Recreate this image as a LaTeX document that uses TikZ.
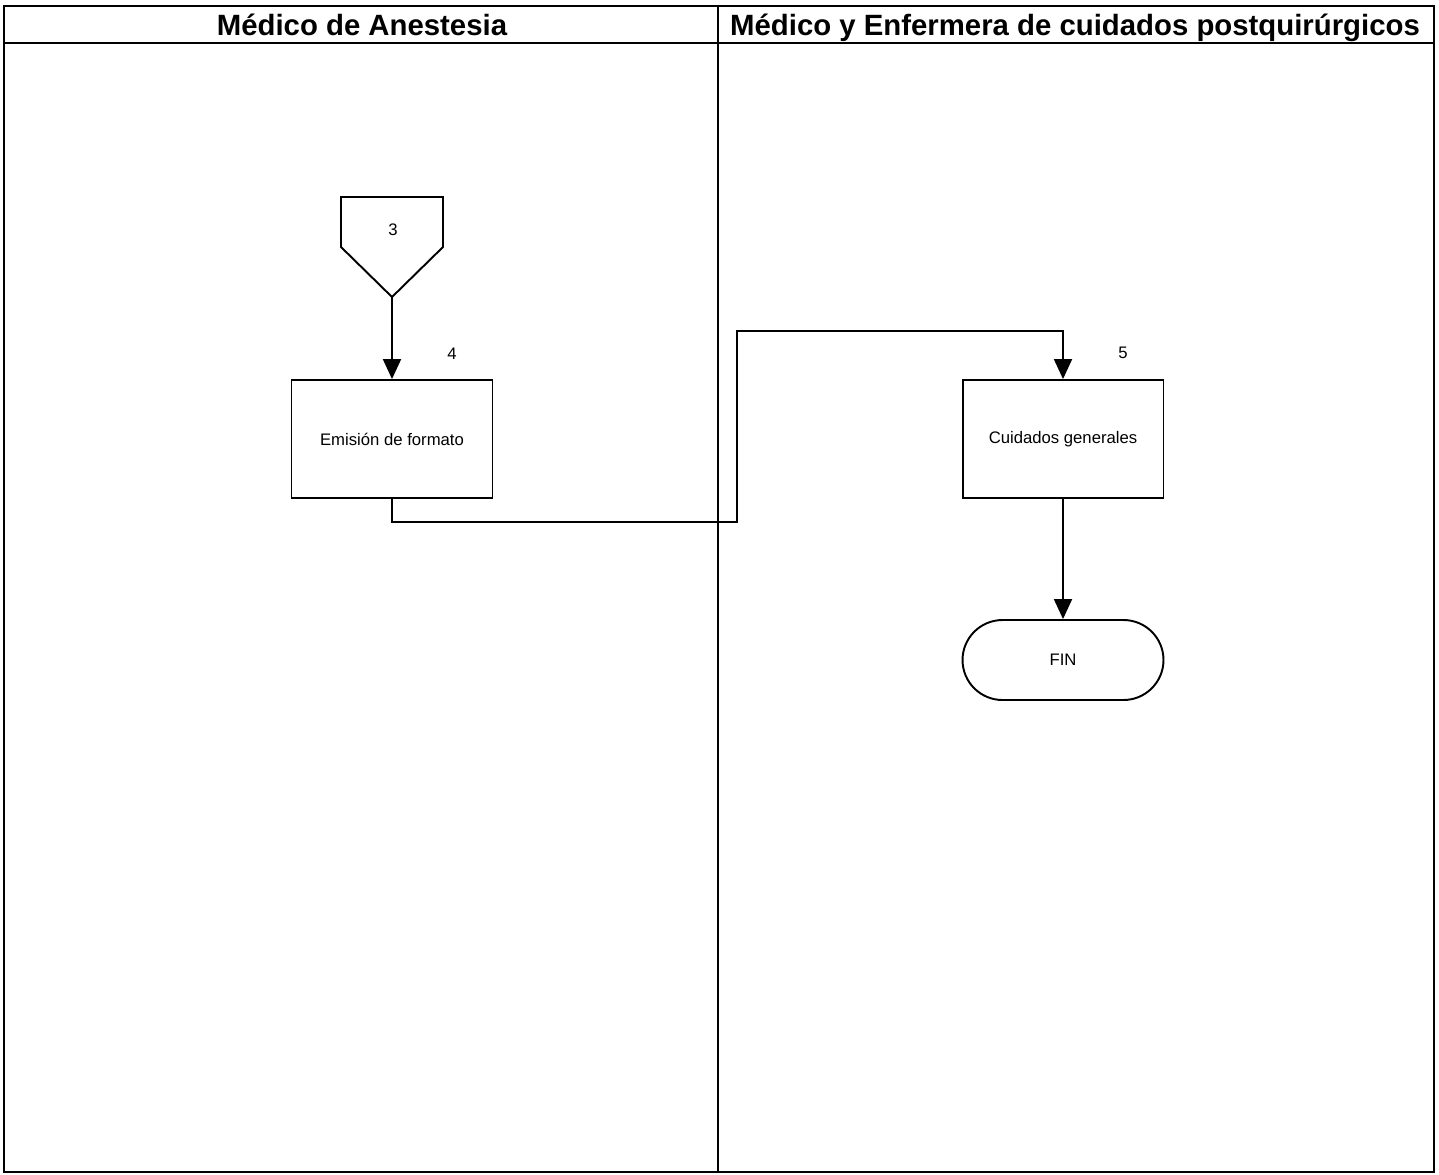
\documentclass[tikz,border=0pt]{standalone}
\usepackage{fontspec}
\setmainfont{Liberation Sans}
\usetikzlibrary{arrows.meta}

\begin{document}
\begin{tikzpicture}[x=0.02cm, y=-0.02cm,
    lane/.style={line width=0.6pt},
    title/.style={font=\fontsize{16.7}{19}\selectfont\bfseries, anchor=base},
    proc/.style={draw, line width=1.1pt, minimum width=4.02cm, minimum height=2.36cm, font=\fontsize{9.5}{11}\selectfont},
    term/.style={draw, line width=1.1pt, rounded corners=0.8cm, minimum width=4.02cm, minimum height=1.6cm, font=\fontsize{9.5}{11}\selectfont},
    num/.style={font=\fontsize{9.5}{11}\selectfont},
    flow/.style={line width=1.1pt, -{Triangle[length=0.4cm, width=0.36cm]}}]
    \useasboundingbox (0,0) rectangle (1439,1174);

    % Lanes
    \draw[lane] (4,6) rectangle (1434,1172);
    \draw[lane] (4,43) -- (1434,43);
    \draw[lane] (718,6) -- (718,1172);
    \node[title] (laneA) at (362,35) {Médico de Anestesia};
    \node[title] (laneB) at (1075,35) {Médico y Enfermera de cuidados postquirúrgicos};

    % Nodes
    \draw[line width=1.1pt] (341,197) -- (443,197) -- (443,247) -- (392,297) -- (341,247) -- cycle;
    \node[num] (c3) at (393,230) {3};
    \coordinate (c3tip) at (392,297);

    \node[proc] (emision) at (392,439) {Emisión de formato};
    \node[num] (n4) at (452,354) {4};

    \node[proc] (cuidados) at (1063,439) {Cuidados generales};
    \node[num] (n5) at (1123,353) {5};

    \node[term] (fin) at (1063,660) {FIN};

    \coordinate (bend1) at (737,522);
    \coordinate (bend2) at (737,331);

    % Lines
    \draw[flow] (c3tip) -- (emision.north);
    \draw[flow] (emision.south) |- (bend1) -- (bend2) -| (cuidados.north);
    \draw[flow] (cuidados.south) -- (fin.north);

\end{tikzpicture}
\end{document}
